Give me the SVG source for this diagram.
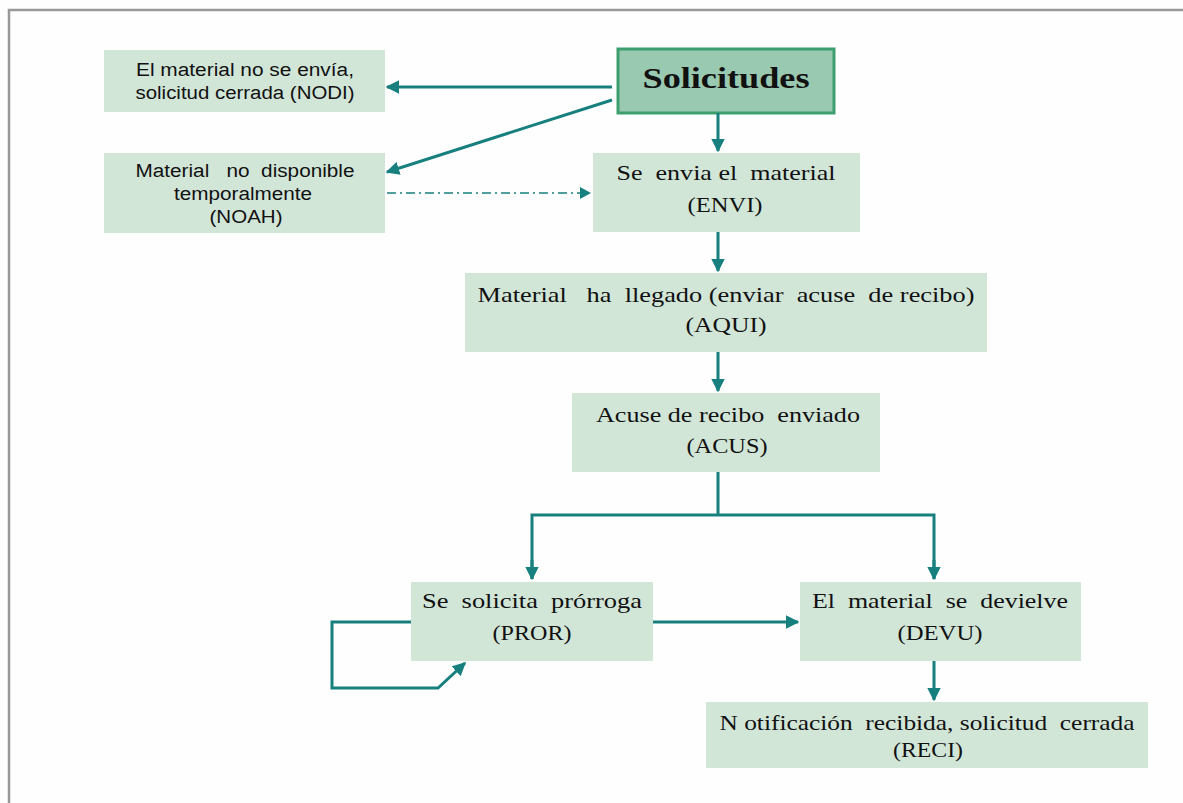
<svg xmlns="http://www.w3.org/2000/svg" width="1183" height="803" viewBox="0 0 1183 803">
<defs>
<style>
.box{fill:#d2e6d8;}
.serif{font-family:"Liberation Serif",serif;font-size:22px;fill:#111;text-anchor:middle;white-space:pre;}
.sans{font-family:"Liberation Sans",Arial,sans-serif;font-size:18px;fill:#111;text-anchor:middle;white-space:pre;}
.ln{fill:none;stroke:#17807f;stroke-width:3;}
</style>
<marker id="ah" viewBox="0 0 10 10" refX="9" refY="5" markerWidth="4.5" markerHeight="4.5" markerUnits="strokeWidth" orient="auto">
<path d="M0,0 L10,5 L0,10 z" fill="#17807f"/>
</marker>
</defs>
<rect width="1183" height="803" fill="#fefefe"/>
<path d="M9,803 V10 H1183" fill="none" stroke="#999" stroke-width="2.5"/>

<g id="nodi"><rect class="box" x="104" y="50" width="281" height="62"/>
<text class="sans" x="245" y="76" textLength="218" lengthAdjust="spacingAndGlyphs">El material no se envía,</text>
<text class="sans" x="245" y="99" textLength="219" lengthAdjust="spacingAndGlyphs">solicitud cerrada (NODI)</text></g>

<g id="solicitudes"><rect x="618" y="49" width="216" height="64" fill="#99c9b0" stroke="#3d9e6e" stroke-width="3"/>
<text x="726" y="88" font-family="Liberation Serif,serif" font-weight="bold" font-size="29" text-anchor="middle" fill="#111" textLength="167" lengthAdjust="spacingAndGlyphs">Solicitudes</text></g>

<g id="noah"><rect class="box" x="104" y="153" width="281" height="80"/>
<text class="sans" x="245" y="177" textLength="219" lengthAdjust="spacingAndGlyphs">Material   no  disponible</text>
<text class="sans" x="243" y="200" textLength="138" lengthAdjust="spacingAndGlyphs">temporalmente</text>
<text class="sans" x="246" y="223" textLength="73" lengthAdjust="spacingAndGlyphs">(NOAH)</text></g>

<g id="envi"><rect class="box" x="593" y="153" width="267" height="79"/>
<text class="serif" x="726" y="180" textLength="219" lengthAdjust="spacingAndGlyphs">Se  envia el  material</text>
<text class="serif" x="725" y="212" textLength="75" lengthAdjust="spacingAndGlyphs">(ENVI)</text></g>

<g id="aqui"><rect class="box" x="465" y="273" width="522" height="79"/>
<text class="serif" x="726" y="302" textLength="497" lengthAdjust="spacingAndGlyphs">Material   ha  llegado (enviar  acuse  de recibo)</text>
<text class="serif" x="726" y="332" textLength="81" lengthAdjust="spacingAndGlyphs">(AQUI)</text></g>

<g id="acus"><rect class="box" x="572" y="393" width="308" height="79"/>
<text class="serif" x="728" y="422" textLength="264" lengthAdjust="spacingAndGlyphs">Acuse de recibo  enviado</text>
<text class="serif" x="727" y="453" textLength="81" lengthAdjust="spacingAndGlyphs">(ACUS)</text></g>

<g id="pror"><rect class="box" x="411" y="582" width="242" height="79"/>
<text class="serif" x="532" y="608" textLength="220" lengthAdjust="spacingAndGlyphs">Se  solicita  prórroga</text>
<text class="serif" x="532" y="640" textLength="79" lengthAdjust="spacingAndGlyphs">(PROR)</text></g>

<g id="devu"><rect class="box" x="800" y="582" width="281" height="79"/>
<text class="serif" x="940" y="608" textLength="256" lengthAdjust="spacingAndGlyphs">El  material  se  devielve</text>
<text class="serif" x="940" y="640" textLength="85" lengthAdjust="spacingAndGlyphs">(DEVU)</text></g>

<g id="reci"><rect class="box" x="706" y="702" width="442" height="66"/>
<text class="serif" x="927" y="730" textLength="415" lengthAdjust="spacingAndGlyphs">N otificación  recibida, solicitud  cerrada</text>
<text class="serif" x="928" y="757" textLength="70" lengthAdjust="spacingAndGlyphs">(RECI)</text></g>

<g id="connectors">
<path class="ln" d="M612,87 H387" marker-end="url(#ah)"/>
<path class="ln" d="M612,100 L387,172" marker-end="url(#ah)"/>
<path class="ln" d="M718,113 V151" marker-end="url(#ah)"/>
<path d="M387,193 H582" fill="none" stroke="#17807f" stroke-width="1.5" stroke-dasharray="9,4,2,4"/>
<path d="M580,187 L591,193 L580,199 z" fill="#17807f"/>
<path class="ln" d="M718,232 V271" marker-end="url(#ah)"/>
<path class="ln" d="M718,352 V391" marker-end="url(#ah)"/>
<path class="ln" d="M718,472 V515"/>
<path class="ln" d="M532,579 V515 H934 V579"/>
<path class="ln" d="M532,560 V579" marker-end="url(#ah)"/>
<path class="ln" d="M934,560 V579" marker-end="url(#ah)"/>
<path class="ln" d="M653,622 H798" marker-end="url(#ah)"/>
<path class="ln" d="M411,622 H332 V688 H438 L465,663" marker-end="url(#ah)"/>
<path class="ln" d="M934,661 V700" marker-end="url(#ah)"/>
</g>
</svg>
